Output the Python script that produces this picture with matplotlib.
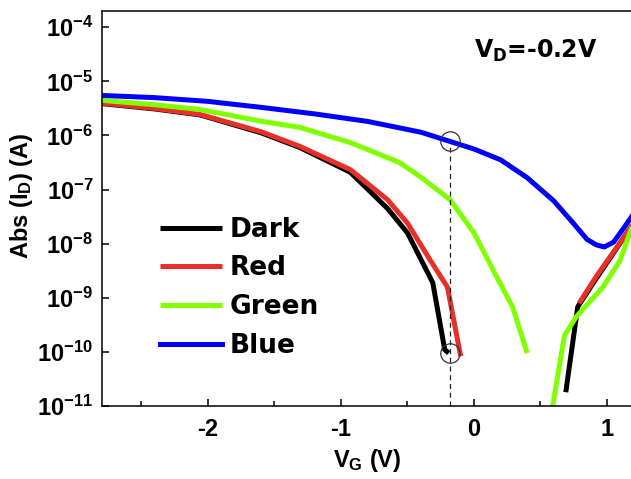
import matplotlib
matplotlib.use("Agg")
import matplotlib.pyplot as plt
from matplotlib.ticker import LogLocator, FixedLocator, MultipleLocator

plt.rcParams['font.family'] = ['Liberation Sans', 'DejaVu Sans']
plt.rcParams['font.weight'] = 'bold'
plt.rcParams['mathtext.default'] = 'regular'
plt.rcParams['axes.unicode_minus'] = False

# ---- data (V_G in volts, |I_D| in amps) ----
dark_left_v = [-2.8, -2.4, -2.06, -1.6, -1.31, -0.93, -0.65, -0.5, -0.31, -0.22, -0.19]
dark_left_i = [3.89e-6, 3.09e-6, 2.4e-6, 1.12e-6, 6.0e-7, 2.09e-7, 4.47e-8, 1.58e-8, 1.9e-9, 1.1e-10, 9.5e-11]
dark_right_v = [0.69, 0.78, 0.92, 1.05, 1.15, 1.2]
dark_right_i = [1.8e-11, 6.8e-10, 2.3e-9, 6.8e-9, 1.58e-8, 2.4e-8]

red_left_v = [-2.8, -2.4, -2.06, -1.6, -1.31, -0.93, -0.65, -0.5, -0.33, -0.2, -0.1]
red_left_i = [3.98e-6, 3.16e-6, 2.45e-6, 1.17e-6, 6.3e-7, 2.34e-7, 6.5e-8, 2.4e-8, 5.0e-9, 1.58e-9, 8.3e-11]
red_right_v = [0.79, 0.92, 1.05, 1.15, 1.2]
red_right_i = [7.9e-10, 2.5e-9, 7.1e-9, 1.58e-8, 2.4e-8]

green_left_v = [-2.8, -2.4, -2.06, -1.59, -1.31, -0.93, -0.56, -0.4, -0.18, 0.0, 0.17, 0.29, 0.40]
green_left_i = [4.47e-6, 3.7e-6, 3.02e-6, 1.82e-6, 1.41e-6, 7.4e-7, 3.16e-7, 1.7e-7, 6.5e-8, 1.58e-8,
                2.45e-9, 6.8e-10, 9.5e-11]
green_right_v = [0.585, 0.68, 0.77, 0.97, 1.10, 1.2]
green_right_i = [8e-12, 2.0e-10, 4.5e-10, 1.58e-9, 5.0e-9, 2.5e-8]

blue_v = [-2.8, -2.4, -2.0, -1.6, -1.2, -0.8, -0.4, -0.18, 0.0, 0.2, 0.4, 0.6, 0.75, 0.85, 0.92, 0.98, 1.05, 1.12, 1.2]
blue_i = [5.5e-6, 5.01e-6, 4.27e-6, 3.31e-6, 2.51e-6, 1.82e-6, 1.15e-6, 7.76e-7, 5.62e-7, 3.55e-7, 1.66e-7,
          6.17e-8, 2.34e-8, 1.2e-8, 9.5e-9, 8.7e-9, 1.07e-8, 1.86e-8, 3.55e-8]

labels = ["Dark", "Red", "Green", "Blue"]
colors = ["#000000", "#e8302a", "#80ff00", "#0000ff"]

marker_v = -0.18
marker_i = [7.76e-7, 9.5e-11]

fig = plt.figure(figsize=(6.31, 4.79), dpi=100)
ax = fig.add_axes([101.6 / 631, 73 / 479, 532 / 631, 395 / 479])

lw = 3.6
series = [
    (dark_left_v, dark_left_i, dark_right_v, dark_right_i),
    (red_left_v, red_left_i, red_right_v, red_right_i),
    (green_left_v, green_left_i, green_right_v, green_right_i),
]
for (lv, li, rv, ri), lab, col in zip(series, labels[:3], colors[:3]):
    ax.plot(lv, li, color=col, lw=lw, label=lab, solid_capstyle='butt')
    ax.plot(rv, ri, color=col, lw=lw, solid_capstyle='butt')
ax.plot(blue_v, blue_i, color=colors[3], lw=lw, label=labels[3])

# dashed guide and circles
ax.plot([marker_v, marker_v], [1e-11, 6.0e-7], color='#222222', lw=0.9, ls=(0, (4, 3)))
ax.plot([marker_v] * 2, marker_i, ls='none', marker='o', ms=14, mfc='none',
        mec='#333333', mew=0.9)

ax.set_yscale('log')
ax.set_xlim(-2.8, 1.2)
ax.set_ylim(1e-11, 2e-4)

ax.yaxis.set_major_locator(LogLocator(base=10, numticks=20))
ax.yaxis.set_minor_locator(FixedLocator([]))
ax.xaxis.set_major_locator(FixedLocator([-2, -1, 0, 1]))
ax.xaxis.set_minor_locator(MultipleLocator(0.5))

ax.tick_params(axis='both', which='both', direction='in', top=False, right=False, width=1.1)
ax.tick_params(axis='both', which='major', length=5, labelsize=17)
ax.tick_params(axis='x', which='minor', length=3.5)
ax.tick_params(axis='x', which='major', pad=9)
ax.tick_params(axis='y', which='major', pad=6)
for lab in ax.get_xticklabels() + ax.get_yticklabels():
    lab.set_fontweight('bold')

for s in ['left', 'bottom', 'top']:
    ax.spines[s].set_linewidth(1.1)
ax.spines['right'].set_visible(False)

ax.set_xlabel(r'V$_\mathregular{G}$ (V)', fontsize=17, fontweight='bold')
ax.set_ylabel(r'Abs (I$_\mathregular{D}$) (A)', fontsize=17, fontweight='bold')
ax.xaxis.set_label_coords(0.5, -0.105)
ax.yaxis.set_label_coords(-0.125, 0.532)

ax.text(0.700, 0.881, r'V$_\mathregular{D}$=-0.2V', transform=ax.transAxes,
        fontsize=17, fontweight='bold', family='DejaVu Sans', ha='left', va='baseline')

leg = ax.legend(loc='upper left', bbox_to_anchor=(0.11, 0.479), frameon=False,
                prop={'family': 'DejaVu Sans', 'weight': 'bold', 'size': 19},
                handlelength=2.35, handletextpad=0.3,
                labelspacing=0.48, borderpad=0, borderaxespad=0)

fig.savefig('out.png', dpi=100)
